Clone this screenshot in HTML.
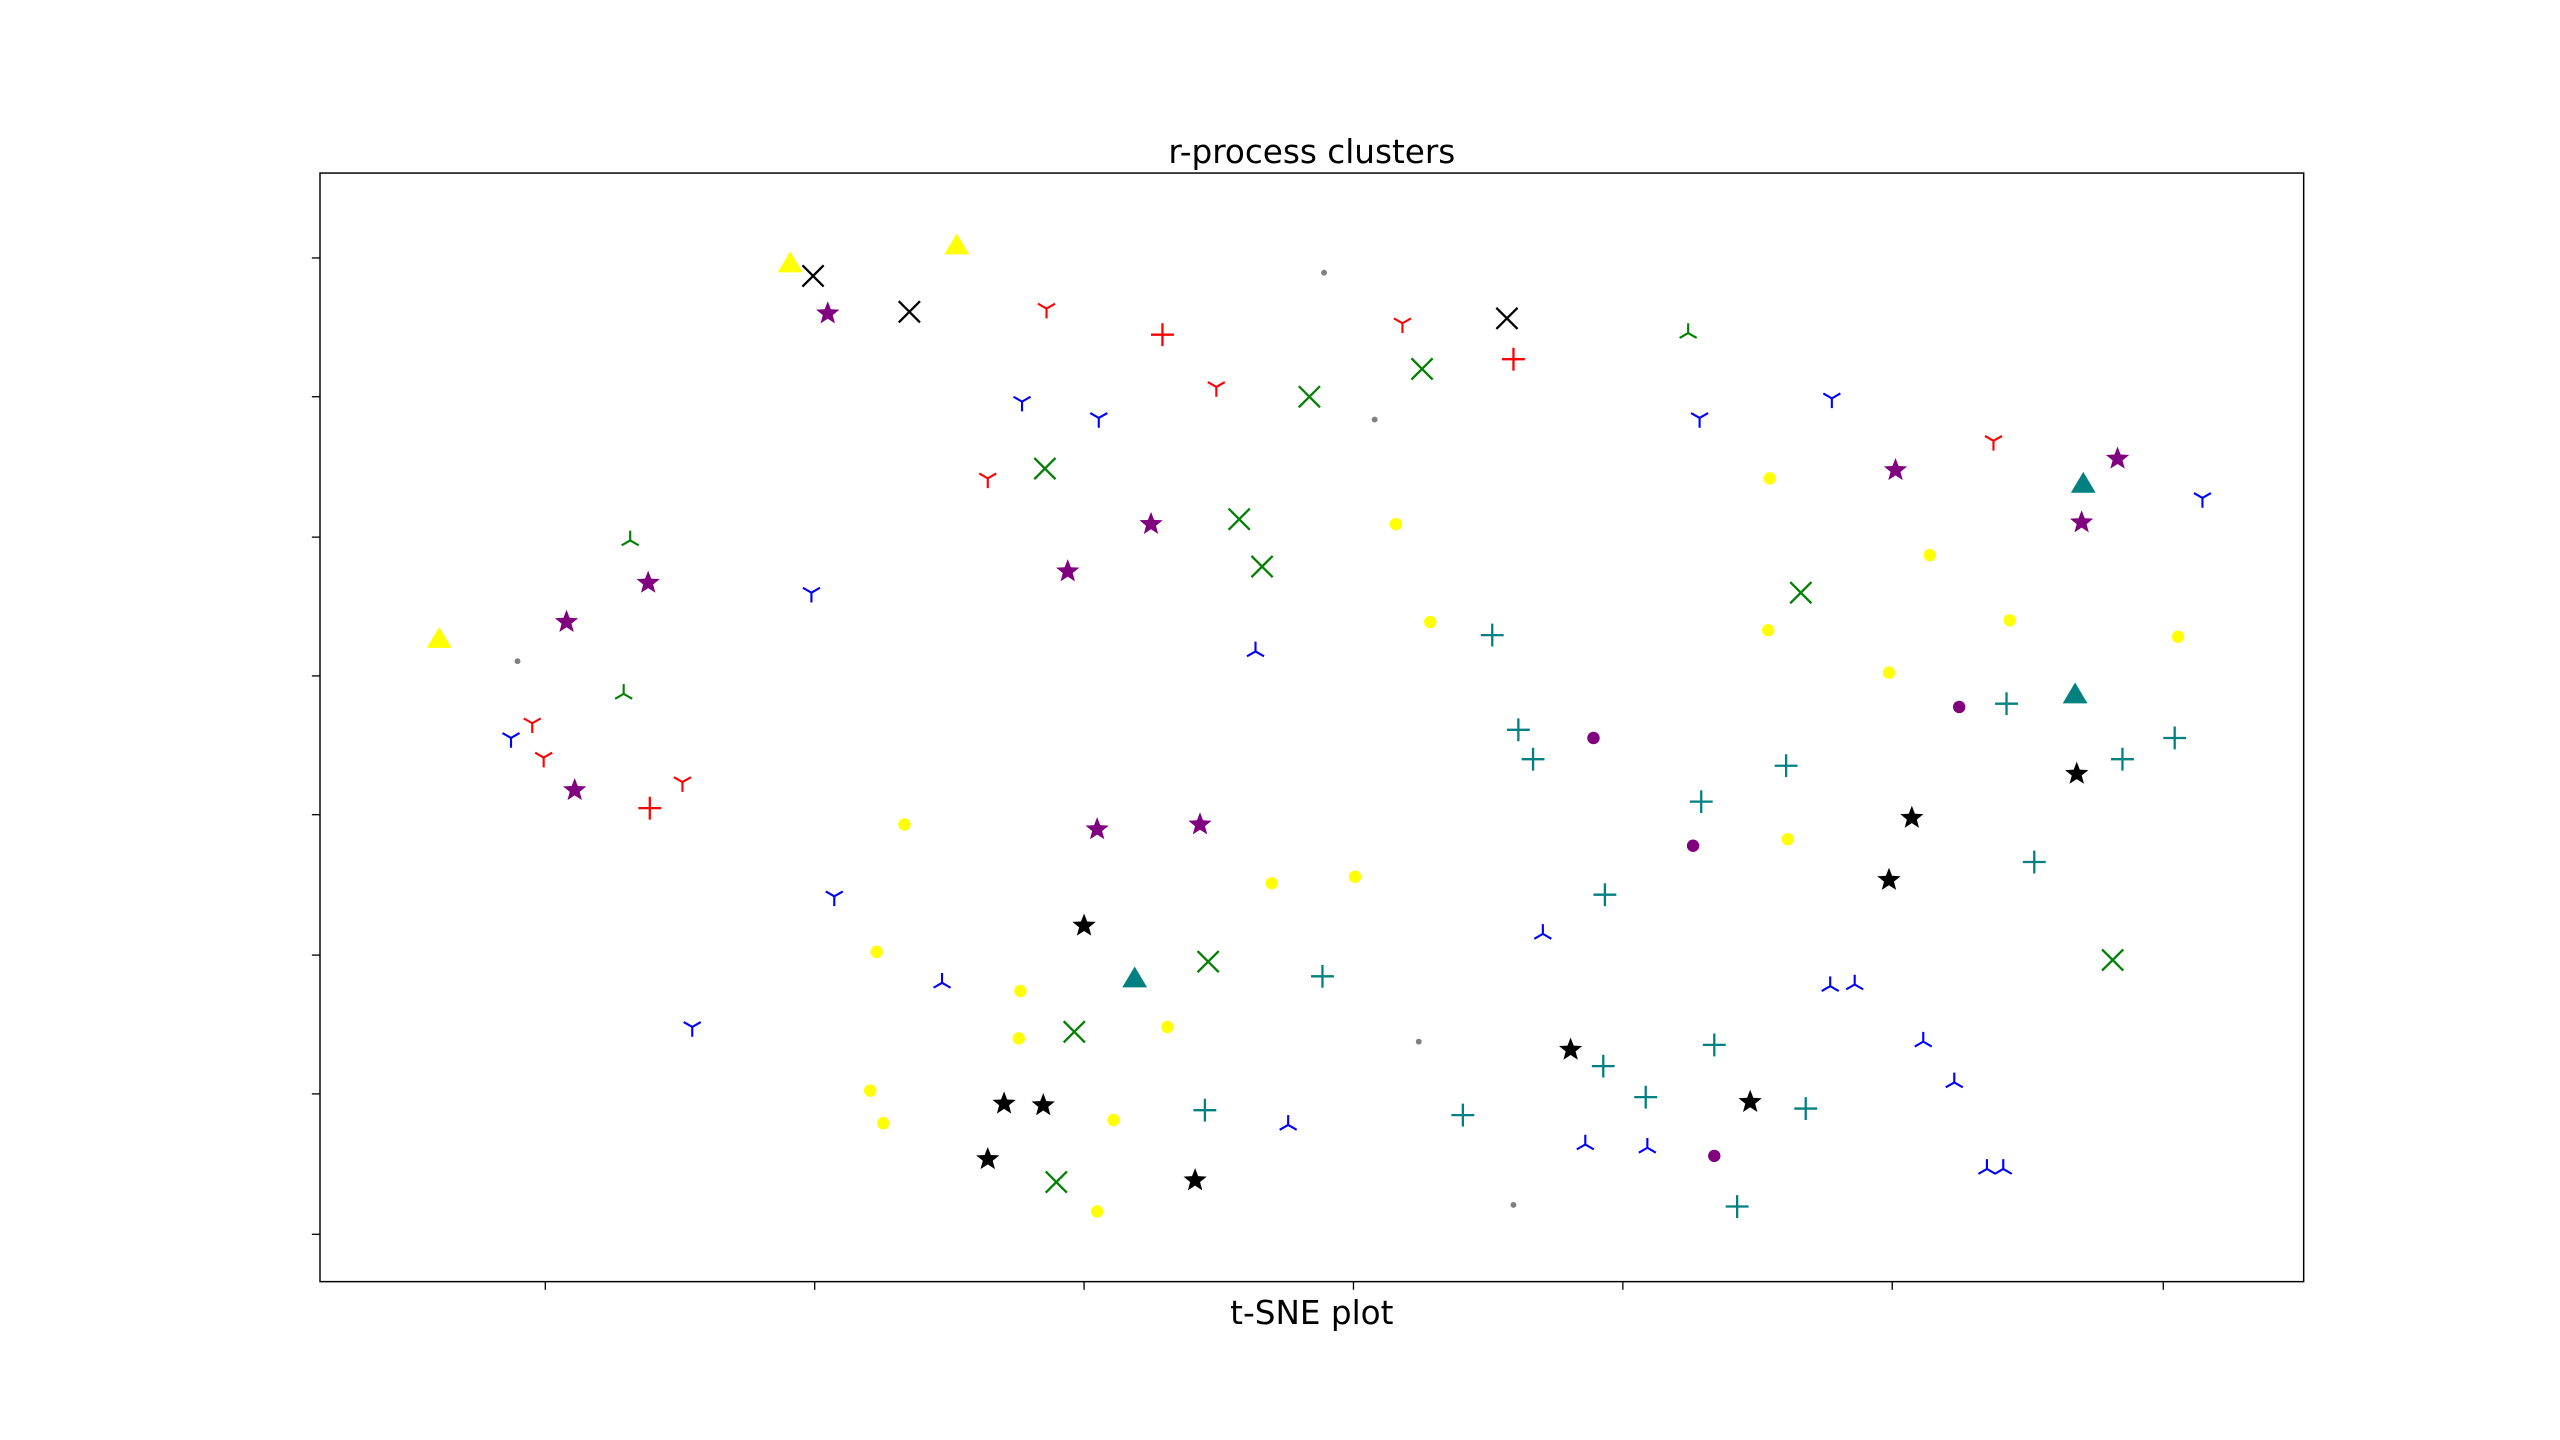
<!DOCTYPE html>
<html><head><meta charset="utf-8"><title>r-process clusters</title>
<style>html,body{margin:0;padding:0;background:#fff;}svg{display:block;}</style></head>
<body>
<svg id="chart" width="2560" height="1440" viewBox="0 0 1568 882" preserveAspectRatio="none" xmlns="http://www.w3.org/2000/svg">
<rect x="0" y="0" width="1568" height="882" fill="#fff"/>
<text x="803.5" y="100" text-anchor="middle" font-family="DejaVu Sans, Liberation Sans, sans-serif" font-size="20" fill="#000">r-process clusters</text>
<text x="803.5" y="811" text-anchor="middle" font-family="DejaVu Sans, Liberation Sans, sans-serif" font-size="20" fill="#000">t-SNE plot</text>
<g id="ticks"></g>
<g id="marks"></g>
<rect x="196" y="106" width="1215" height="679" fill="none" stroke="#000" stroke-width="0.9"/>
</svg>
<script>
// data in t-SNE units
const xTicks = [33.4, 49.9, 66.4, 82.9, 99.4, 115.9, 132.5];
const yTicks = [72.4, 63.9, 55.3, 46.8, 38.3, 29.7, 21.2, 12.6];

const yellowTriX = [26.9, 48.4, 58.6];
const yellowTriY = [49.0, 72.0, 73.1];
const tealTriX = [69.5, 127.6, 127.1];
const tealTriY = [28.2, 58.5, 45.6];
const blackXX = [49.8, 55.7, 92.3];
const blackXY = [71.3, 69.1, 68.7];
const greenXX = [80.2, 87.1, 64.0, 75.9, 77.3, 110.3, 74.0, 65.8, 64.7, 129.4];
const greenXY = [63.9, 65.6, 59.5, 56.4, 53.5, 51.9, 29.3, 25.0, 15.8, 29.4];
const purpleStarX = [50.7, 70.5, 65.4, 39.7, 34.7, 35.2, 67.2, 73.5, 116.1, 129.7, 127.5];
const purpleStarY = [69.0, 56.1, 53.2, 52.5, 50.1, 39.8, 37.4, 37.7, 59.4, 60.1, 56.2];
const blackStarX = [66.4, 61.5, 63.9, 60.5, 73.2, 96.2, 107.2, 117.1, 115.7, 127.2];
const blackStarY = [31.5, 20.6, 20.5, 17.2, 15.9, 23.9, 20.7, 38.1, 34.3, 40.8];
const yellowDotX = [108.4, 85.5, 87.6, 118.2, 123.1, 108.3, 115.7, 133.4, 55.4, 77.9, 83.0, 109.5, 53.7, 62.5, 71.5, 62.4, 53.3, 54.1, 68.2, 67.2];
const yellowDotY = [58.9, 56.1, 50.1, 54.2, 50.2, 49.6, 47.0, 49.2, 37.7, 34.1, 34.5, 36.8, 29.9, 27.5, 25.3, 24.6, 21.4, 19.4, 19.6, 14.0];
const purpleDotX = [97.6, 120.0, 103.7, 105.0];
const purpleDotY = [43.0, 44.9, 36.4, 17.4];
const grayDotX = [81.1, 84.2, 31.7, 86.9, 92.7];
const grayDotY = [71.5, 62.5, 47.7, 24.4, 14.4];
const redPlusX = [71.2, 92.7, 39.8];
const redPlusY = [67.7, 66.2, 38.7];
const tealPlusX = [91.4, 93.0, 93.9, 122.9, 104.2, 109.4, 130.0, 133.2, 124.6, 98.3, 81.0, 105.0, 98.2, 100.8, 89.6, 73.8, 110.6, 106.4];
const tealPlusY = [49.3, 43.5, 41.7, 45.1, 39.1, 41.3, 41.7, 43.0, 35.4, 33.4, 28.4, 24.2, 22.9, 21.0, 19.9, 20.2, 20.3, 14.3];
const redTriDownX = [64.1, 85.9, 74.5, 60.5, 122.1, 32.6, 33.3, 41.8];
const redTriDownY = [69.3, 68.4, 64.5, 58.9, 61.2, 43.9, 41.8, 40.3];
const blueTriDownX = [62.6, 67.3, 104.1, 112.2, 134.9, 49.7, 31.3, 51.1, 42.4];
const blueTriDownY = [63.6, 62.6, 62.6, 63.8, 57.7, 51.9, 43.0, 33.3, 25.3];
const greenTriUpX = [103.4, 38.6, 38.2];
const greenTriUpY = [67.8, 55.1, 45.7];
const blueTriUpX = [76.9, 94.5, 57.7, 78.9, 97.1, 100.9, 112.1, 113.6, 117.8, 119.7, 121.7, 122.7];
const blueTriUpY = [48.3, 31.0, 28.0, 19.3, 18.1, 17.9, 27.8, 27.9, 24.4, 21.9, 16.6, 16.6];

const X0 = 19.6, X1 = 141.1, Y0 = 9.7, Y1 = 77.6;
function sx(v){ return 196 + (v - X0) / (X1 - X0) * 1215; }
function sy(v){ return 785 - (v - Y0) / (Y1 - Y0) * 679; }

const NS = 'http://www.w3.org/2000/svg';
const marks = document.getElementById('marks');
const ticks = document.getElementById('ticks');
function mk(tag, attrs, parent){
  const e = document.createElementNS(NS, tag);
  for (const k in attrs) e.setAttribute(k, attrs[k]);
  parent.appendChild(e);
  return e;
}

xTicks.forEach(v => {
  const t = mk('line', {x1: sx(v), x2: sx(v), y1: 785, y2: 790, stroke: '#000', 'stroke-width': 0.8}, ticks);
  
  
});
yTicks.forEach(v => {
  const t = mk('line', {x1: 191, x2: 196, y1: sy(v), y2: sy(v), stroke: '#000', 'stroke-width': 0.8}, ticks);
  
  
});

function draw(xs, ys, type, color, name){
  for (let i = 0; i < xs.length; i++){
    const cx = sx(xs[i]), cy = sy(ys[i]);
    let el;
    if (type === 'tri'){
      const r = 8;
      el = mk('polygon', {points: `${cx},${cy-r} ${cx-0.95*r},${cy+0.6*r} ${cx+0.95*r},${cy+0.6*r}`, fill: color}, marks);
    } else if (type === 'x'){
      const r = 6.5;
      el = mk('path', {d: `M${cx-r},${cy-r}L${cx+r},${cy+r}M${cx-r},${cy+r}L${cx+r},${cy-r}`, stroke: color, 'stroke-width': 1.4, fill: 'none'}, marks);
    } else if (type === 'plus'){
      const r = 7;
      el = mk('path', {d: `M${cx-r},${cy}L${cx+r},${cy}M${cx},${cy-r}L${cx},${cy+r}`, stroke: color, 'stroke-width': 1.4, fill: 'none'}, marks);
    } else if (type === 'star'){
      const R = 7.5, r2 = 3.2; let p = [];
      for (let k = 0; k < 10; k++){
        const a = -Math.PI/2 + k*Math.PI/5, rr = k%2 ? r2 : R;
        p.push((cx + rr*Math.cos(a)).toFixed(2) + ',' + (cy + rr*Math.sin(a)).toFixed(2));
      }
      el = mk('polygon', {points: p.join(' '), fill: color}, marks);
    } else if (type === 'dot'){
      el = mk('circle', {cx: cx, cy: cy, r: 3.8, fill: color}, marks);
    } else if (type === 'small'){
      el = mk('circle', {cx: cx, cy: cy, r: 1.8, fill: color}, marks);
    } else if (type === 'tridown'){
      const r = 6;
      el = mk('path', {d: `M${cx},${cy}L${cx},${cy+r}M${cx},${cy}L${cx-0.87*r},${cy-0.5*r}M${cx},${cy}L${cx+0.87*r},${cy-0.5*r}`, stroke: color, 'stroke-width': 1.3, fill: 'none'}, marks);
    } else if (type === 'triup'){
      const r = 6;
      el = mk('path', {d: `M${cx},${cy}L${cx},${cy-r}M${cx},${cy}L${cx-0.87*r},${cy+0.5*r}M${cx},${cy}L${cx+0.87*r},${cy+0.5*r}`, stroke: color, 'stroke-width': 1.3, fill: 'none'}, marks);
    }
    
    
  }
}

draw(yellowTriX, yellowTriY, 'tri', '#ffff00', 'yellow-triangle-point');
draw(tealTriX, tealTriY, 'tri', '#008080', 'teal-triangle-point');
draw(blackXX, blackXY, 'x', '#000000', 'black-x-point');
draw(greenXX, greenXY, 'x', '#008000', 'green-x-point');
draw(purpleStarX, purpleStarY, 'star', '#800080', 'purple-star-point');
draw(blackStarX, blackStarY, 'star', '#000000', 'black-star-point');
draw(yellowDotX, yellowDotY, 'dot', '#ffff00', 'yellow-dot-point');
draw(purpleDotX, purpleDotY, 'dot', '#800080', 'purple-dot-point');
draw(grayDotX, grayDotY, 'small', '#808080', 'gray-dot-point');
draw(redPlusX, redPlusY, 'plus', '#ff0000', 'red-plus-point');
draw(tealPlusX, tealPlusY, 'plus', '#008080', 'teal-plus-point');
draw(redTriDownX, redTriDownY, 'tridown', '#ff0000', 'red-tri-down-point');
draw(blueTriDownX, blueTriDownY, 'tridown', '#0000ff', 'blue-tri-down-point');
draw(greenTriUpX, greenTriUpY, 'triup', '#008000', 'green-tri-up-point');
draw(blueTriUpX, blueTriUpY, 'triup', '#0000ff', 'blue-tri-up-point');
</script>
</body></html>
